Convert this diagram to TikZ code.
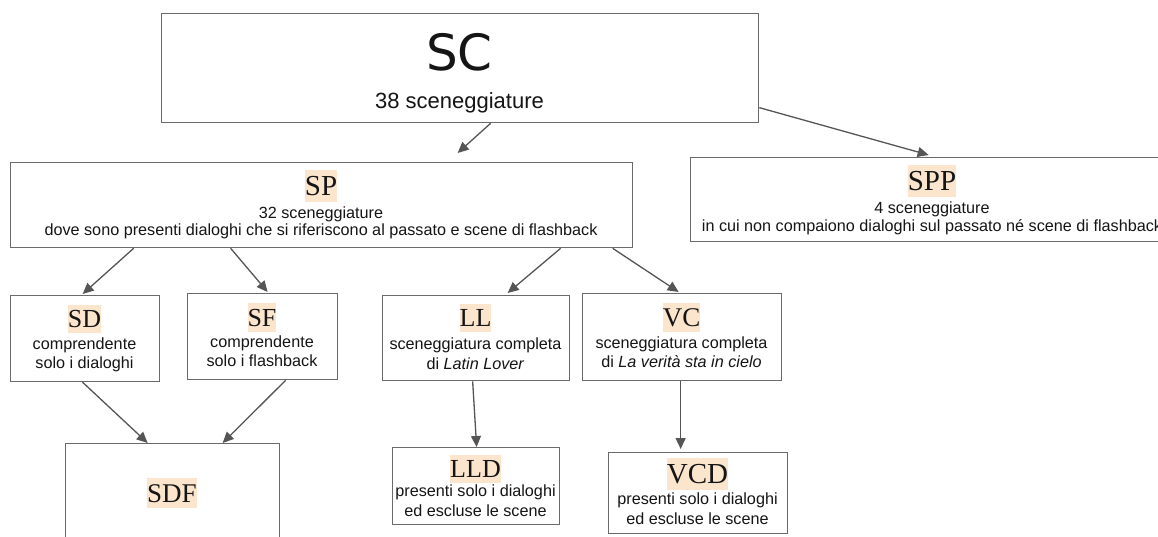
\documentclass[tikz,border=0pt]{standalone}
\usepackage{fontspec}
\setmainfont{Liberation Serif}
\newfontfamily\sansf{Liberation Sans}
\newfontfamily\titlef{DejaVu Sans}
\usetikzlibrary{arrows.meta}
\definecolor{peach}{HTML}{FCE5CD}
\definecolor{boxline}{HTML}{6A6A6A}
\definecolor{arrline}{HTML}{555555}
\definecolor{ink}{HTML}{151515}
\newcommand\hlab[2]{{\fontsize{#1}{#1}\selectfont\setlength{\fboxsep}{0pt}\colorbox{peach}{\rule[-0.216em]{0pt}{1.107em}#2}}}
\tikzset{
  box/.style={draw=boxline, line width=1.3pt, fill=white, inner sep=0pt, anchor=north west},
  lab/.style={inner sep=0pt, text=ink},
  txt/.style={inner sep=0pt, anchor=base, text=ink, font=\sansf\fontsize{16.2}{18}\selectfont},
  arr/.style={draw=arrline, line width=1.3pt, -{Triangle[length=11pt,width=10pt]}}
}
\begin{document}
\begin{tikzpicture}[x=1pt,y=-1pt]
\useasboundingbox (0,0) rectangle (1158,537);
\fill[white] (0,0) rectangle (1158,537);
\clip (0,0) rectangle (1158,537);
% boxes
\node[box, minimum width=597pt, minimum height=109pt] (sc) at (161,13) {};
\node[box, minimum width=622pt, minimum height=85pt] (sp) at (10,162) {};
\node[box, minimum width=484pt, minimum height=84pt] (spp) at (690,157) {};
\node[box, minimum width=149pt, minimum height=86pt] (sd) at (10,295) {};
\node[box, minimum width=150pt, minimum height=86pt] (sf) at (187,293) {};
\node[box, minimum width=214pt, minimum height=120pt] (sdf) at (65,443) {};
\node[box, minimum width=187pt, minimum height=85pt] (ll) at (382,295) {};
\node[box, minimum width=199pt, minimum height=87pt] (vc) at (582,293) {};
\node[box, minimum width=167pt, minimum height=77pt] (lld) at (392,447) {};
\node[box, minimum width=179pt, minimum height=81pt] (vcd) at (608,452) {};
% texts
\node[lab, anchor=base, font=\titlef\fontsize{50}{50}\selectfont] (sclab) at (459.5,71) {SC};
\node[txt, font=\sansf\fontsize{22}{26}\selectfont] (sct) at (459.5,109) {38 sceneggiature};

\node[lab] (splab) at (321,186) {\hlab{29}{SP}};
\node[txt] (spt1) at (321,219) {32 sceneggiature};
\node[txt] (spt2) at (321,236) {dove sono presenti dialoghi che si riferiscono al passato e scene di flashback};

\node[lab] (spplab) at (932,181) {\hlab{29}{SPP}};
\node[txt] (sppt1) at (932,214) {4 sceneggiature};
\node[txt] (sppt2) at (932,232) {in cui non compaiono dialoghi sul passato né scene di flashback};

\node[lab] (sdlab) at (84.5,319) {\hlab{26}{SD}};
\node[txt] (sdt1) at (84.5,349) {comprendente};
\node[txt] (sdt2) at (84.5,368) {solo i dialoghi};

\node[lab] (sflab) at (262,317.5) {\hlab{26}{SF}};
\node[txt] (sft1) at (262,347.5) {comprendente};
\node[txt] (sft2) at (262,366.5) {solo i flashback};

\node[lab] (sdflab) at (172,493) {\hlab{27}{SDF}};

\node[lab] (lllab) at (475.5,318) {\hlab{26}{LL}};
\node[txt] (llt1) at (475.5,349) {sceneggiatura completa};
\node[txt] (llt2) at (475.5,369) {di \textit{Latin Lover}};

\node[lab] (vclab) at (681.5,317.5) {\hlab{27}{VC}};
\node[txt] (vct1) at (681.5,348) {sceneggiatura completa};
\node[txt] (vct2) at (681.5,367) {di \textit{La verità sta in cielo}};

\node[lab] (lldlab) at (475.5,469) {\hlab{26}{LLD}};
\node[txt] (lldt1) at (475.5,496) {presenti solo i dialoghi};
\node[txt] (lldt2) at (475.5,516) {ed escluse le scene};

\node[lab] (vcdlab) at (697.5,474) {\hlab{29}{VCD}};
\node[txt] (vcdt1) at (697.5,504) {presenti solo i dialoghi};
\node[txt] (vcdt2) at (697.5,524) {ed escluse le scene};
% arrows
\draw[arr] ([xshift=30.5pt]sc.south) -- ([xshift=136pt,yshift=9pt]sp.north);
\draw[arr] ([yshift=-39.5pt]sc.east) -- ([xshift=-4pt,yshift=2pt]spp.north);
\draw[arr] ([xshift=-188pt]sp.south) -- ([xshift=-2.5pt,yshift=1pt]sd.north);
\draw[arr] ([xshift=-91pt]sp.south) -- ([xshift=5pt,yshift=1pt]sf.north);
\draw[arr] ([xshift=239pt]sp.south) -- ([xshift=31.5pt,yshift=2pt]ll.north);
\draw[arr] ([xshift=291pt]sp.south) -- ([xshift=-3.5pt,yshift=1pt]vc.north);
\draw[arr] ([xshift=-2.5pt]sd.south) -- ([xshift=-25pt]sdf.north);
\draw[arr] ([xshift=23pt]sf.south) -- ([xshift=50pt]sdf.north);
\draw[arr] ([xshift=-3.5pt]ll.south) -- ([xshift=0.5pt]lld.north);
\draw[arr] ([xshift=-1.5pt]vc.south) -- ([xshift=-17.5pt,yshift=3pt]vcd.north);
\end{tikzpicture}
\end{document}
